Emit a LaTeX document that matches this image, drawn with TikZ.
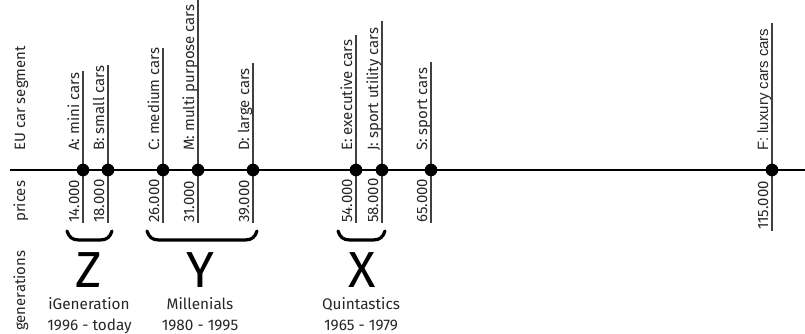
\documentclass[tikz,border=0pt]{standalone}
\usepackage{fontspec}
\setmainfont{Fira Sans}
\newfontfamily\arialfont{Liberation Sans}
\begin{document}
\begin{tikzpicture}[x=0.75pt,y=-0.75pt,
  dot/.style={circle,fill=black,inner sep=0pt,minimum size=9.5pt},
  vlab/.style={rotate=90,anchor=base west,inner sep=0pt,font=\fontsize{11.2}{13}\selectfont,text=black!85},
  vline/.style={line width=0.9pt,black!75},
  axis/.style={line width=1.6pt},
  brace/.style={line width=2.4pt,line cap=round},
  big/.style={font=\fontsize{38}{40}\selectfont,inner sep=0pt},
  gen/.style={font=\fontsize{11.5}{13}\selectfont,anchor=base,inner sep=0pt,text=black!85}]
\useasboundingbox (0,0) rectangle (805,333);
% axis
\coordinate (L) at (10,170);
\coordinate (R) at (805,170);
\draw[axis] (L) -- (R);
% row labels
\node[vlab] (seg) at (25,151) {EU car segment};
\node[vlab] (prices) at (25,222) {prices};
\node[vlab] (gens) at (25,331) {generations};
% segments
\foreach \n/\x/\t/\lab/\pr in {A/83/71/{A: mini cars}/14.000,
  B/108/65/{B: small cars}/18.000,
  C/163/48/{C: medium cars}/26.000,
  M/198/0/{M: multi purpose cars}/31.000,
  D/253/63/{D: large cars}/39.000,
  E/356/35/{E: executive cars}/54.000,
  J/382/21/{J: sport utility cars}/58.000,
  S/431/62/{S: sport cars}/65.000}{
  \coordinate (c\n) at (\x,170);
  \coordinate (top\n) at (\x,\t);
  \coordinate (bot\n) at (\x,223);
  \draw[vline] (top\n) -- (c\n) -- (bot\n);
  \node[dot] (dot\n) at (c\n) {};
  \node[vlab] (lab\n) at (\x-4,151) {\lab};
  \node[vlab] (pr\n) at (\x-4,223) {\pr};
}
% F
\coordinate (cF) at (772,170);
\coordinate (topF) at (772,23);
\coordinate (botF) at (772,231);
\draw[vline] (topF) -- (cF) -- (botF);
\node[dot] (dotF) at (cF) {};
\node[vlab,font=\arialfont\fontsize{11.2}{13}\selectfont] (labF) at (768,151) {F: luxury cars cars};
\node[vlab] (prF) at (768,230) {115.000};
% braces
\draw[brace] (67,231) .. controls (69,237) and (72,240) .. (79,240) -- (100,240) .. controls (107,240) and (110,237) .. (112,231);
\draw[brace] (147,231) .. controls (149,237) and (152,240) .. (159,240) -- (245,240) .. controls (252,240) and (255,237) .. (257,231);
\draw[brace] (338,231) .. controls (340,237) and (343,240) .. (350,240) -- (373,240) .. controls (380,240) and (383,237) .. (385,231);
% generations
\node[big] (Z) at (89,270) {Z};
\node[big] (Y) at (200,270) {Y};
\node[big] (X) at (362,270) {X};
\node[gen] (zname) at (89,309) {iGeneration};
\node[gen] (zyear) at (89.5,330) {1996 - today};
\node[gen] (yname) at (200,309) {Millenials};
\node[gen] (yyear) at (200,330) {1980 - 1995};
\node[gen] (xname) at (361,309) {Quintastics};
\node[gen] (xyear) at (361,330) {1965 - 1979};
\end{tikzpicture}
\end{document}
